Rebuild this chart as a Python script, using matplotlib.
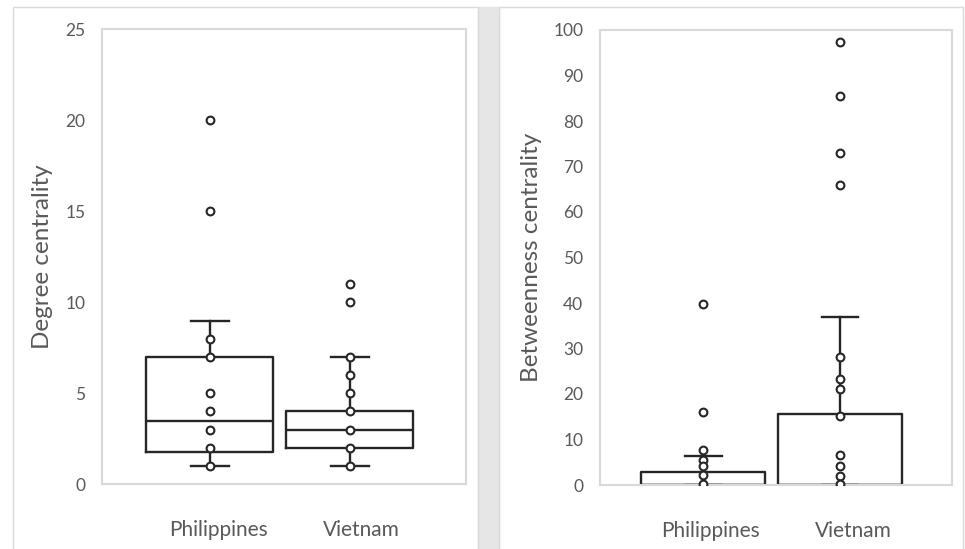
import matplotlib
matplotlib.use("Agg")
import matplotlib.pyplot as plt
from matplotlib.patches import Rectangle

plt.rcParams["font.family"] = ["Lato", "DejaVu Sans"]

COUNTRIES = ["Philippines", "Vietnam"]

# degree centrality: box summary + plotted points per country
DEG_Q1 = [1.75, 2]
DEG_MED = [3.5, 3]
DEG_Q3 = [7, 4]
DEG_WLO = [1, 1]
DEG_WHI = [9, 7]
DEG_PTS = [
    [20, 15, 8, 7, 5, 4, 3, 2, 1],
    [11, 10, 7, 6, 5, 4, 3, 2, 1],
]

# betweenness centrality
BTW_Q1 = [0, 0]
BTW_MED = [0, 0]
BTW_Q3 = [2.85, 15.7]
BTW_WLO = [0, 0]
BTW_WHI = [6.3, 37]
BTW_PTS = [
    [39.7, 16.1, 7.8, 5.6, 4.2, 2.1, 0.3],
    [97.3, 85.6, 72.9, 65.9, 28.1, 23.3, 21.1, 15.2, 6.7, 4.2, 2.0, 0.3],
]

INK = "#262626"
TEXT = "#595959"
FRAME = "#d9d9d9"
W, H = 965, 549


def px_rect(x0, y0, x1, y1):
    """pixel box (top-left origin) -> figure fraction rect"""
    return [x0 / W, 1 - y1 / H, (x1 - x0) / W, (y1 - y0) / H]


def box_panel(ax, q1, med, q3, wlo, whi, pts, ylim, yticks, ylabel, xlim,
              label_pos):
    stats = []
    for i in range(len(COUNTRIES)):
        stats.append({"q1": q1[i], "med": med[i], "q3": q3[i],
                      "whislo": wlo[i], "whishi": whi[i], "fliers": []})
    line = dict(color=INK, linewidth=1.7)
    ax.bxp(stats, positions=[1, 2], widths=0.907, capwidths=0.27,
           showfliers=False, boxprops=line, whiskerprops=line,
           capprops=line, medianprops=line)
    for i, vals in enumerate(pts):
        ax.plot([i + 1] * len(vals), vals, "o", ms=5.6, mfc="white",
                mec=INK, mew=1.5, zorder=4)
    ax.set_xlim(*xlim)
    ax.set_ylim(*ylim)
    ax.set_yticks(yticks)
    # category labels sit a little right of the box centres
    ax.set_xticks(label_pos)
    ax.set_xticklabels(COUNTRIES)
    ax.tick_params(axis="x", length=0, pad=26, labelsize=15, colors=TEXT)
    ax.tick_params(axis="y", length=0, pad=12, labelsize=12.5, colors=TEXT)
    ax.set_ylabel(ylabel, fontsize=17.5, color=TEXT, labelpad=8.5)
    for sp in ax.spines.values():
        sp.set_color(FRAME)
        sp.set_linewidth(1.5)


fig = plt.figure(figsize=(W / 100, H / 100), dpi=100)

# panel outlines and the grey gutter between them
fig.patches.append(Rectangle((478 / W, 0), 21 / W, 1 - 7 / H,
                             transform=fig.transFigure, color="#e6e6e6",
                             zorder=0))
for x0, x1 in [(12.7, 477.7), (499, 963)]:
    fig.patches.append(Rectangle((x0 / W, -0.01), (x1 - x0) / W,
                                 1.01 - 7 / H, transform=fig.transFigure,
                                 fill=False, edgecolor=FRAME, lw=1,
                                 zorder=0))

ax1 = fig.add_axes(px_rect(102, 29.3, 466, 484.3))
box_panel(ax1, DEG_Q1, DEG_MED, DEG_Q3, DEG_WLO, DEG_WHI, DEG_PTS,
          (0, 25), range(0, 26, 5), "Degree centrality", (0.229, 2.829),
          [1.063, 2.084])

ax2 = fig.add_axes(px_rect(600, 30, 952, 485))
box_panel(ax2, BTW_Q1, BTW_MED, BTW_Q3, BTW_WLO, BTW_WHI, BTW_PTS,
          (0, 100), range(0, 101, 10), "Betweenness centrality",
          (0.244, 2.819), [1.054, 2.095])

fig.savefig("out.png", dpi=100)
